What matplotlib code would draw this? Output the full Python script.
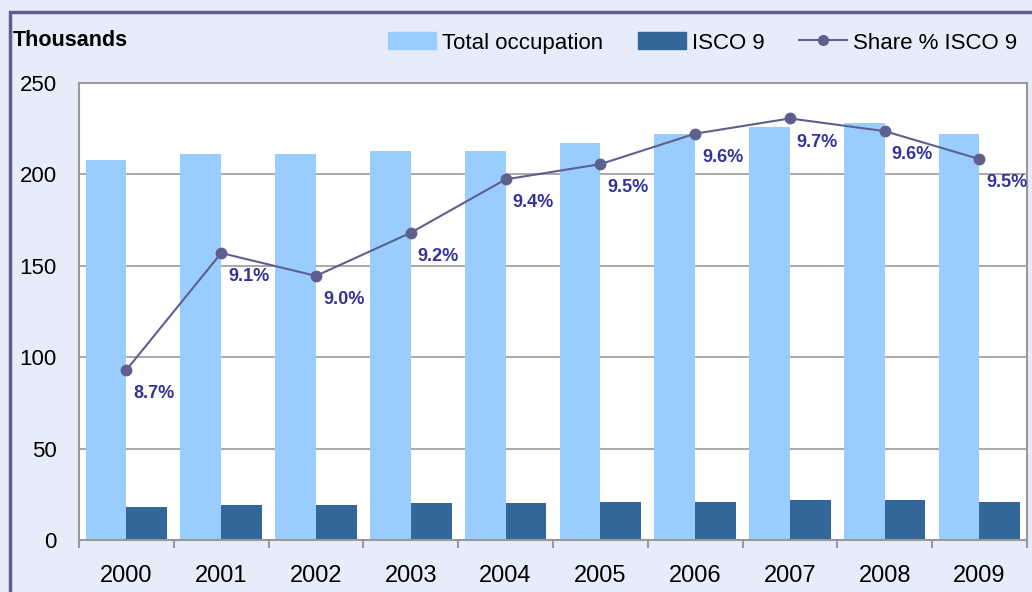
import matplotlib.pyplot as plt
import matplotlib.patches as mpatches
from matplotlib.lines import Line2D
import numpy as np

plt.rcParams['font.family'] = ['Liberation Sans', 'DejaVu Sans']

years = ['2000', '2001', '2002', '2003', '2004', '2005', '2006', '2007', '2008', '2009']
total_occ = [208, 211, 211, 213, 213, 217, 222, 226, 228, 222]
isco9 = [18, 19, 19, 20, 20, 21, 21, 22, 22, 21]
share = [8.67, 9.13, 9.04, 9.21, 9.42, 9.48, 9.60, 9.66, 9.61, 9.50]

light = '#99CCFF'
dark = '#336699'
line_col = '#5F5F8F'
lab_col = '#333399'
bg = '#E6ECFA'

fig = plt.figure(figsize=(10.32, 5.92), dpi=100, facecolor=bg)
ax = fig.add_axes([0.0766, 0.0878, 0.9184, 0.7722])
ax.set_facecolor('white')

x = np.arange(len(years))
w = 0.43
ax.bar(x - w / 2, total_occ, width=w, color=light, zorder=2)
ax.bar(x + w / 2, isco9, width=w, color=dark, zorder=2)

ax.set_xlim(-0.5, len(years) - 0.5)
ax.set_ylim(0, 250)
ax.set_yticks([0, 50, 100, 150, 200, 250])
ax.yaxis.grid(True, color='#999999', linewidth=1.2, zorder=1)
ax.tick_params(axis='y', length=0, pad=16, labelsize=16)
ax.set_xticks(x)
ax.set_xticklabels(years)
ax.set_xticks(np.arange(len(years) + 1) - 0.5, minor=True)
ax.tick_params(axis='x', which='major', length=0, pad=18, labelsize=17)
ax.tick_params(axis='x', which='minor', length=6, width=1.5, color='#999999')
for s in ax.spines.values():
    s.set_color('#999999')
    s.set_linewidth(1.5)

ax2 = ax.twinx()
ax2.set_ylim(8.0, 9.8)
ax2.axis('off')
ax2.plot(x, share, color=line_col, linewidth=1.5, marker='o', markersize=7.5, zorder=5)
for xi, s in zip(x, share):
    ax2.annotate(f'{s:.1f}%', (xi, s), xytext=(5, -17), textcoords='offset points',
                 ha='left', va='center', fontsize=13, fontweight='bold', color=lab_col)

fig.text(13 / 1032, 1 - 40 / 592, 'Thousands', fontsize=15.5, fontweight='bold',
         va='center', ha='left')

handles = [mpatches.Patch(color=light, label='Total occupation'),
           mpatches.Patch(color=dark, label='ISCO 9'),
           Line2D([], [], color=line_col, marker='o', markersize=7, linewidth=1.5,
                  label='Share % ISCO 9')]
fig.legend(handles=handles, ncol=3, loc='center left',
           bbox_to_anchor=(368 / 1032, 1 - 43 / 592), frameon=False, fontsize=16,
           handlelength=2.16, handleheight=0.8, columnspacing=1.55, handletextpad=0.27)

border = mpatches.Rectangle((9.5 / 1032, -0.1), 1.2, 1 - 11.5 / 592 + 0.1,
                            transform=fig.transFigure, fill=False,
                            edgecolor='#5F5F8F', linewidth=2.5)
fig.patches.append(border)

fig.savefig('out.png', dpi=100, facecolor=bg)
